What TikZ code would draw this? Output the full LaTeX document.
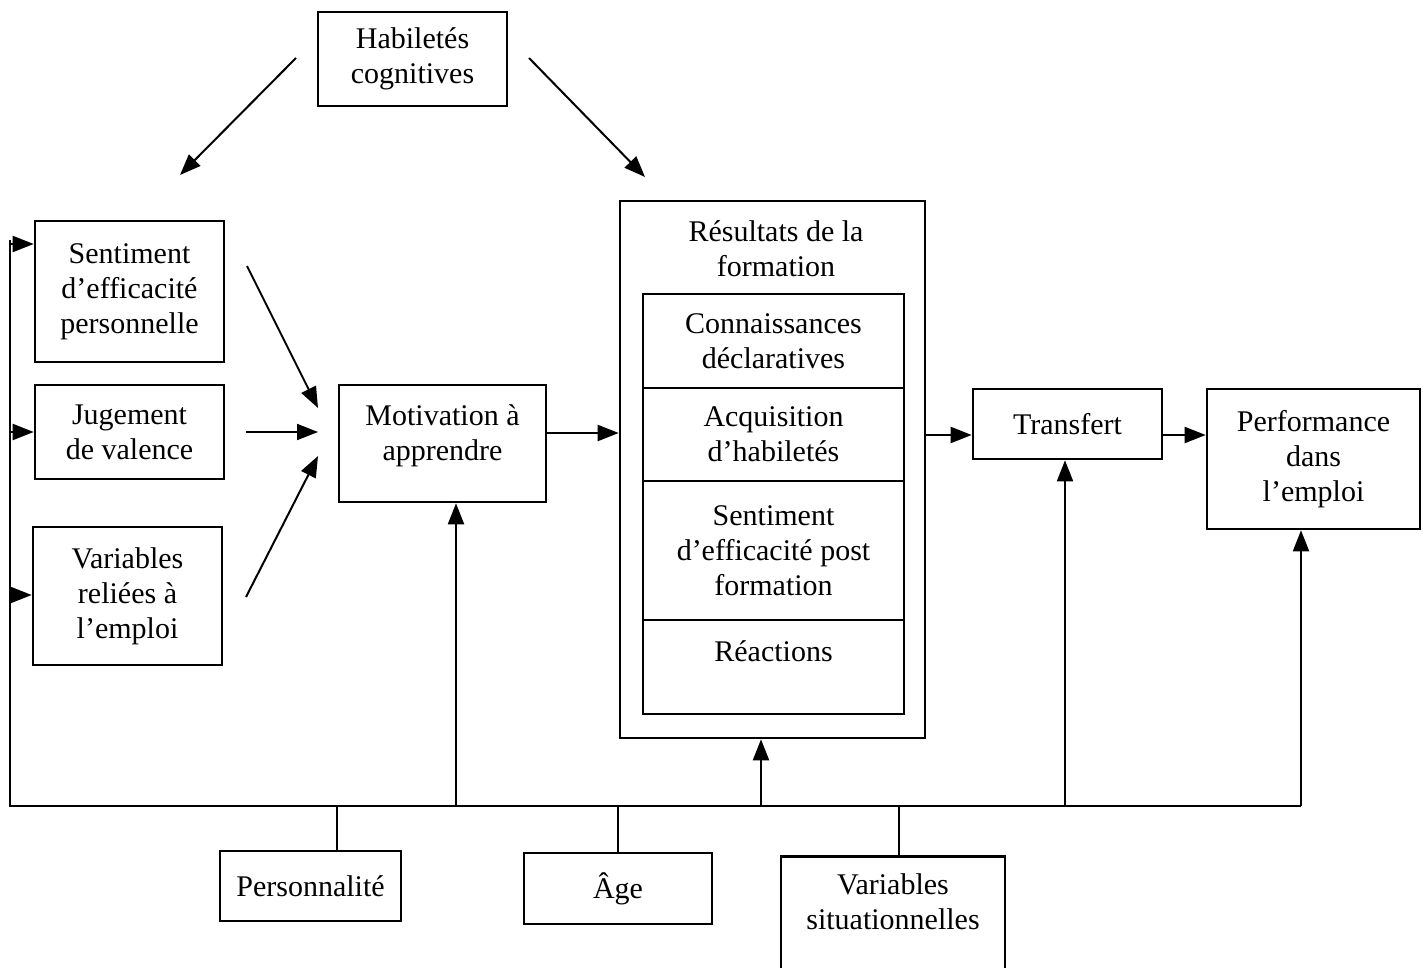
\documentclass[tikz,border=0pt]{standalone}
\usepackage{fontspec}
\setmainfont{Liberation Serif}
\usetikzlibrary{arrows.meta}
\begin{document}
\begin{tikzpicture}[x=0.5pt,y=-0.5pt,
  box/.style={draw, line width=1.3pt, align=center, inner sep=0pt, font=\fontsize{15}{17.5}\selectfont},
  txt/.style={align=center, inner sep=0pt, font=\fontsize{15}{17.5}\selectfont},
  ln/.style={line width=1pt},
  arr/.style={line width=1pt, -{Triangle[length=10.5pt,width=8pt]}}]
\clip (0,0) rectangle (1423,968);
% top
\node (hab) [box, minimum width=94.5pt, minimum height=47pt] at (412.5,59) {Habiletés\\cognitives};
% left column
\node (sent) [box, minimum width=94.5pt, minimum height=70.5pt] at (129.5,291.5) {Sentiment\\d’efficacité\\personnelle};
\node (jug) [box, minimum width=94.5pt, minimum height=47pt] at (129.5,432) {Jugement\\de valence};
\node (varr) [box, minimum width=94.5pt, minimum height=69pt] at (127.5,596) {Variables\\reliées à\\l’emploi};
% motivation
\node (mot) [box, minimum width=103.5pt, minimum height=58.5pt] at (442.5,443.5) {Motivation à\\apprendre\\[-7pt]};
% results
\node (outer) [box, minimum width=152.5pt, minimum height=268.5pt] at (772.5,469.5) {};
\node (rtitle) [txt] at (776,249) {Résultats de la\\formation};
\node (r1) [box, minimum width=130.5pt, minimum height=47pt] at (773.5,341) {Connaissances\\déclaratives};
\node (r2) [box, minimum width=130.5pt, minimum height=46.5pt] at (773.5,434.5) {Acquisition\\d’habiletés};
\node (r3) [box, minimum width=130.5pt, minimum height=69.5pt] at (773.5,550.5) {Sentiment\\d’efficacité post\\formation};
\node (r4) [box, minimum width=130.5pt, minimum height=47pt] at (773.5,667) {};
\node (r4t) [txt] at (773.5,651) {Réactions};
% right
\node (trans) [box, minimum width=94.5pt, minimum height=35pt] at (1067.5,424) {Transfert};
\node (perf) [box, minimum width=106.5pt, minimum height=70pt] at (1313.5,459) {Performance\\dans\\l’emploi};
% bottom
\node (pers) [box, minimum width=90.5pt, minimum height=35pt] at (310.5,886) {Personnalité};
\node (age) [box, minimum width=94pt, minimum height=35.5pt] at (618,888.5) {Âge};
\node (vs) [box, minimum width=112pt, minimum height=70pt, anchor=north] at (893,855) {};
\node (vst) [txt] at (893,902) {Variables\\situationnelles};

% arrows from Habiletés
\coordinate (h1) at (296,58); \coordinate (h1e) at (180,175);
\coordinate (h2) at (529,58); \coordinate (h2e) at (645,177);
\draw[arr] (h1) -- (h1e);
\draw[arr] (h2) -- (h2e);

% arrows into motivation
\coordinate (s1) at (247,266); \coordinate (m1) at (318,408);
\coordinate (s2) at (246,432); \coordinate (m2) at (318,432);
\coordinate (s3) at (246,597); \coordinate (m3) at (318,456);
\draw[arr] (s1) -- (m1);
\draw[arr] (s2) -- (m2);
\draw[arr] (s3) -- (m3);

% main chain
\coordinate (c1) at (546,433);
\draw[arr] (c1) -- (c1 -| outer.west);
\coordinate (c2) at (925,435);
\draw[arr] (c2) -- (c2 -| trans.west);
\coordinate (c3) at (1162,435);
\draw[arr] (c3) -- (c3 -| perf.west);

% bus
\coordinate (btop) at (10,240);
\coordinate (bcorner) at (10,806);
\coordinate (bend) at (1301,806);
\draw[ln] (btop) -- (bcorner) -- (bend);
\coordinate (l1) at (10,244); \coordinate (l2) at (10,432); \coordinate (l3) at (10,595);
\draw[arr] (l1) -- (l1 -| sent.west);
\draw[arr] (l2) -- (l2 -| jug.west);
\draw[arr] (l3) -- (l3 -| varr.west);
\coordinate (u1) at (456,806); \coordinate (u2) at (761,806);
\coordinate (u3) at (1065,806); \coordinate (u4) at (1301,806);
\draw[arr] (u1) -- (u1 |- mot.south);
\draw[arr] (u2) -- (u2 |- outer.south);
\draw[arr] (u3) -- (u3 |- trans.south);
\draw[arr] (u4) -- (u4 |- perf.south);
\coordinate (d1) at (337,806); \coordinate (d2) at (618,806); \coordinate (d3) at (899,806);
\draw[ln] (d1) -- (d1 |- pers.north);
\draw[ln] (d2) -- (d2 |- age.north);
\draw[ln] (d3) -- (d3 |- vs.north);
\end{tikzpicture}
\end{document}
